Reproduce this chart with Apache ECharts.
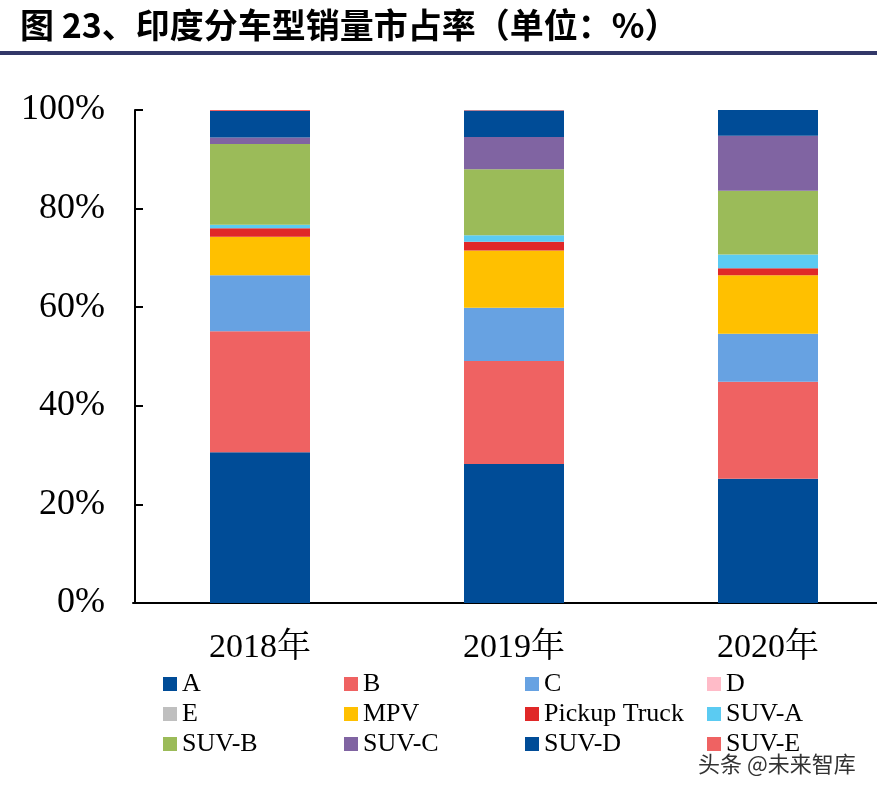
<!DOCTYPE html>
<html>
<head>
<meta charset="utf-8">
<script src="https://cdn.jsdelivr.net/npm/echarts@6/dist/echarts.min.js"></script>
<style>
html,body{margin:0;padding:0;background:#fff;}
#chart{width:877px;height:795px;}
</style>
</head>
<body>
<div id="chart"></div>
<script>
// Data
var categories = ['2018年', '2019年', '2020年'];
var seriesNames = ['A', 'B', 'C', 'D', 'E', 'MPV', 'Pickup Truck', 'SUV-A', 'SUV-B', 'SUV-C', 'SUV-D', 'SUV-E'];
var valA       = [30.6, 28.2, 25.2];
var valB       = [24.5, 20.9, 19.7];
var valC       = [11.4, 10.8, 9.7];
var valD       = [0, 0, 0];
var valE       = [0, 0, 0];
var valMPV     = [7.8, 11.6, 11.9];
var valPickup  = [1.7, 1.8, 1.4];
var valSUVA    = [0.7, 1.3, 2.8];
var valSUVB    = [16.4, 13.4, 12.9];
var valSUVC    = [1.3, 6.5, 11.2];
var valSUVD    = [5.4, 5.4, 5.2];
var valSUVE    = [0.2, 0.1, 0];
var yTicks = ['0%', '20%', '40%', '60%', '80%', '100%'];

var allValues = [valA, valB, valC, valD, valE, valMPV, valPickup, valSUVA, valSUVB, valSUVC, valSUVD, valSUVE];
var colors = ['#004C97', '#EF6262', '#67A2E2', '#FFBBC8', '#BFBFBF', '#FFC000', '#E02828', '#5BCBF2', '#9BBB59', '#8064A2', '#004C97', '#EF6262'];

var serif = '"Liberation Serif", "Noto Serif CJK SC", "Noto Sans CJK SC", serif';

var series = seriesNames.map(function (n, i) {
  return {
    name: n,
    type: 'bar',
    stack: 'total',
    barWidth: 100,
    data: allValues[i],
    itemStyle: { color: colors[i] },
    emphasis: { disabled: true }
  };
});

var legendCols = [
  ['A', 'E', 'SUV-B'],
  ['B', 'MPV', 'SUV-C'],
  ['C', 'Pickup Truck', 'SUV-D'],
  ['D', 'SUV-A', 'SUV-E']
];
var legendX = [163, 344, 525, 707];
var legends = legendCols.map(function (col, i) {
  return {
    orient: 'vertical',
    left: legendX[i],
    top: 671,
    padding: 0,
    itemWidth: 14,
    itemHeight: 14,
    itemGap: 4,
    icon: 'rect',
    selectedMode: false,
    data: col,
    textStyle: { fontFamily: serif, fontSize: 26, color: '#000' }
  };
});

var chart = echarts.init(document.getElementById('chart'), null, { renderer: 'canvas' });
chart.setOption({
  animation: false,
  backgroundColor: '#fff',
  grid: { left: 133, top: 110, width: 762, height: 493, containLabel: false, outerBoundsMode: 'none' },
  legend: legends,
  xAxis: {
    type: 'category',
    data: categories,
    axisLine: { lineStyle: { color: '#000', width: 2 } },
    axisTick: { show: false },
    axisLabel: { fontFamily: serif, fontSize: 34, color: '#000', margin: 28 }
  },
  yAxis: {
    type: 'value',
    min: 0,
    max: 100,
    interval: 20,
    offset: -2,
    axisLine: { show: true, lineStyle: { color: '#000', width: 2 } },
    axisTick: { show: true, inside: true, length: 8, lineStyle: { color: '#000', width: 2 } },
    splitLine: { show: false },
    axisLabel: {
      fontFamily: serif, fontSize: 36, color: '#000', margin: 30,
      formatter: function (v) { return yTicks[Math.round(v / 20)]; }
    }
  },
  series: series,
  graphic: [
    {
      type: 'text', left: 20, top: 8,
      style: {
        text: '图 23、印度分车型销量市占率（单位：%）',
        font: 'bold 34px "Noto Sans CJK SC", sans-serif',
        fill: '#000'
      }
    },
    {
      type: 'rect', shape: { x: 0, y: 51, width: 877, height: 4 },
      style: { fill: '#323768' }
    },
    {
      type: 'text', left: 697, top: 752,
      style: {
        text: '头条 @未来智库',
        font: '22px "Noto Sans CJK SC", sans-serif',
        fill: '#333',
        stroke: '#fff', lineWidth: 2
      }
    }
  ]
});
</script>
</body>
</html>
